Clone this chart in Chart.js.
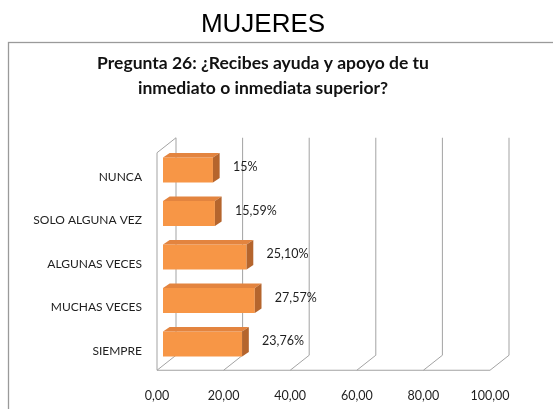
<!DOCTYPE html>
<html>
<head>
<meta charset="utf-8">
<script src="https://cdn.jsdelivr.net/npm/chart.js@4"></script>
<style>
  html, body { margin: 0; padding: 0; background: #ffffff; }
  #wrap { position: relative; width: 553px; height: 409px; }
</style>
</head>
<body>
<div id="wrap"><canvas id="c" width="553" height="409"></canvas></div>
<script>
const pageTitle = 'MUJERES';
const chartTitle = ['Pregunta 26: ¿Recibes ayuda y apoyo de tu', 'inmediato o inmediata superior?'];
const categories = ['NUNCA', 'SOLO ALGUNA VEZ', 'ALGUNAS VECES', 'MUCHAS VECES', 'SIEMPRE'];
const values = [15, 15.59, 25.10, 27.57, 23.76];
const xMin = 0, xMax = 100, xStep = 20;

const fmtTick = v => Number(v).toFixed(2).replace('.', ',');
const fmtVal = v => (Number.isInteger(v) ? String(v) : v.toFixed(2).replace('.', ',')) + '%';

const FRONT_DX = -6, FRONT_DY = 4.5, BACK_DX = 13, BACK_DY = -10.5;
const BAR_DX = 6.7, BAR_DY = 4.5;
const GRID = '#a3a3a3';

const frame3d = {
  id: 'frame3d',
  beforeDraw(chart) {
    const ctx = chart.ctx;
    ctx.save();
    ctx.strokeStyle = '#9a9a9a';
    ctx.lineWidth = 1.3;
    ctx.strokeRect(8.5, 42.5, 600, 420);
    ctx.restore();
  },
  beforeDatasetsDraw(chart) {
    const ctx = chart.ctx, xs = chart.scales.x, a = chart.chartArea;
    ctx.save();
    ctx.strokeStyle = GRID;
    ctx.lineWidth = 1;
    const ticks = xs.ticks.map(t => t.value);
    const fy = a.bottom + FRONT_DY, by = a.bottom + BACK_DY, ty = a.top + BACK_DY;
    ctx.beginPath();
    ticks.forEach(v => {
      const px = xs.getPixelForValue(v);
      ctx.moveTo(px + BACK_DX, ty);
      ctx.lineTo(px + BACK_DX, by);
      ctx.moveTo(px + FRONT_DX, fy);
      ctx.lineTo(px + BACK_DX, by);
    });
    const x0 = xs.getPixelForValue(xMin), x1 = xs.getPixelForValue(xMax);
    ctx.moveTo(x0 + FRONT_DX, fy);
    ctx.lineTo(x1 + FRONT_DX, fy);
    ctx.moveTo(x0 + FRONT_DX, fy);
    ctx.lineTo(x0 + FRONT_DX, a.top + FRONT_DY);
    ctx.lineTo(x0 + BACK_DX, ty);
    ctx.stroke();
    ctx.restore();
  },
  afterDatasetsDraw(chart) {
    const ctx = chart.ctx;
    const meta = chart.getDatasetMeta(0);
    ctx.save();
    meta.data.forEach((bar, i) => {
      const p = bar.getProps(['x', 'y', 'base', 'height'], true);
      const top = p.y - p.height / 2, bot = p.y + p.height / 2;
      ctx.fillStyle = '#e3843f';
      ctx.beginPath();
      ctx.moveTo(p.base, top);
      ctx.lineTo(p.x, top);
      ctx.lineTo(p.x + BAR_DX, top - BAR_DY);
      ctx.lineTo(p.base + BAR_DX, top - BAR_DY);
      ctx.closePath();
      ctx.fill();
      ctx.fillStyle = '#b5652d';
      ctx.beginPath();
      ctx.moveTo(p.x, top);
      ctx.lineTo(p.x + BAR_DX, top - BAR_DY);
      ctx.lineTo(p.x + BAR_DX, bot - BAR_DY);
      ctx.lineTo(p.x, bot);
      ctx.closePath();
      ctx.fill();
      ctx.fillStyle = '#1e1e1e';
      ctx.font = '12.5px Lato';
      ctx.textAlign = 'left';
      ctx.textBaseline = 'middle';
      ctx.fillText(fmtVal(values[i]), p.x + 20, p.y - 3);
    });
    ctx.restore();
  }
};

new Chart(document.getElementById('c'), {
  type: 'bar',
  data: {
    labels: categories,
    datasets: [{
      data: values,
      backgroundColor: '#f79646',
      borderWidth: 0,
      barPercentage: 0.575,
      categoryPercentage: 1.0
    }]
  },
  options: {
    indexAxis: 'y',
    responsive: false,
    animation: false,
    devicePixelRatio: 1,
    layout: { padding: { left: 30, right: 57, top: 0, bottom: 0 } },
    plugins: {
      legend: { display: false },
      tooltip: { enabled: false },
      title: {
        display: true,
        text: pageTitle,
        color: '#000000',
        font: { family: 'Liberation Sans', size: 26, weight: 'normal', lineHeight: 1.2 },
        padding: { top: 9.4, bottom: 0 }
      },
      subtitle: {
        display: true,
        text: chartTitle,
        color: '#111111',
        font: { family: 'Lato', size: 17.5, weight: 'bold', lineHeight: 25 / 17.5 },
        padding: { top: 9.9, bottom: 47.75 }
      }
    },
    scales: {
      x: {
        type: 'linear',
        min: xMin,
        max: xMax,
        grid: { display: false, drawTicks: false },
        border: { display: false },
        ticks: {
          stepSize: xStep,
          labelOffset: FRONT_DX,
          padding: 22.5,
          color: '#1e1e1e',
          font: { family: 'Lato', size: 12.5 },
          callback: v => fmtTick(v)
        },
        afterFit(s) { s.height = 43.25; }
      },
      y: {
        grid: { display: false, drawTicks: false },
        border: { display: false },
        ticks: {
          padding: 21,
          labelOffset: 7,
          color: '#1e1e1e',
          font: { family: 'Lato', size: 12 }
        },
        afterFit(s) { s.width = 133; }
      }
    }
  },
  plugins: [frame3d]
});
</script>
</body>
</html>
